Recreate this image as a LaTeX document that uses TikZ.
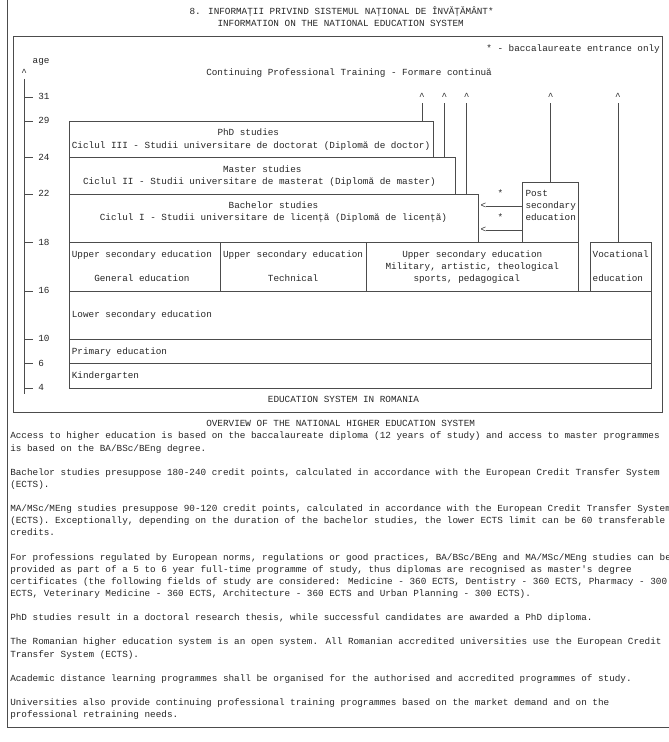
\documentclass[tikz,border=0pt]{standalone}
\usepackage{fontspec}
\newfontfamily\mono{Liberation Mono}
\begin{document}
\begin{tikzpicture}[x=5.6pt, y=-12.12pt,
  ln/.style={line width=0.55pt, draw=black!70},
  txt/.style={anchor=base west, inner sep=0pt, outer sep=0pt, yshift=-2.5pt,
              font=\mono\fontsize{9.33}{11}\selectfont, text=black!85}]
\useasboundingbox (-4.7pt,0.1pt) rectangle (664.3pt,-741.9pt);

% ---------- outer frame ----------
\draw[ln] (0.5,-1) -- (0.5,60) -- (125,60);
% ---------- inner frame ----------
\draw[ln] (1.5,3) rectangle (117.5,34);

% ---------- titles ----------
\node[txt] (title1) at (33,1) {8. INFORMAȚII PRIVIND SISTEMUL NAȚIONAL DE ÎNVĂȚĂMÂNT*};
\node[txt] (title2) at (38,2) {INFORMATION ON THE NATIONAL EDUCATION SYSTEM};
\node[txt] (note) at (86,4) {* - baccalaureate entrance only};
\node[txt] (age) at (5,5) {age};
\node[txt] (cpt) at (36,6) {Continuing Professional Training - Formare continuă};

% ---------- age axis ----------
\node[txt] (axup) at (3,6) {\textasciicircum};
\draw[ln] (3.5,6.5) -- (3.5,32.5);
\foreach \r/\a [count=\i] in {8/31,10/29,13/24,16/22,20/18,24/16,28/10,30/6,32/4} {
  \draw[ln] (3.5,\r) -- (5,\r);
  \node[txt] (age\i) at (6,\r) {\a};
}

% ---------- upward arrows (continuing training) ----------
\foreach \c/\e [count=\i] in {74/10,78/13,82/16,97/15,109/20} {
  \node[txt] (up\i) at (\c,8) {\textasciicircum};
  \draw[ln] (\c+0.5,8.5) -- (\c+0.5,\e);
}

% ---------- higher education boxes ----------
\draw[ln] (11.5,32) -- (11.5,10) -- (76.5,10) -- (76.5,13);
\draw[ln] (11.5,13) -- (80.5,13) -- (80.5,16);
\draw[ln] (11.5,16) -- (84.5,16) -- (84.5,20);
\draw[ln] (11.5,20) -- (102.5,20);
% post secondary
\draw[ln] (92.5,20) -- (92.5,15) -- (102.5,15) -- (102.5,24);
% vocational
\draw[ln] (104.5,24) -- (104.5,20) -- (115.5,20) -- (115.5,32);
% horizontal lines below
\draw[ln] (11.5,24) -- (115.5,24);
\draw[ln] (11.5,28) -- (115.5,28);
\draw[ln] (11.5,30) -- (115.5,30);
\draw[ln] (11.5,32) -- (115.5,32);
% dividers upper secondary
\draw[ln] (38.5,20) -- (38.5,24);
\draw[ln] (64.5,20) -- (64.5,24);

% arrows from post secondary to bachelor
\node[txt] (ar1) at (85,17) {<};
\node[txt] (ar2) at (85,19) {<};
\draw[ln] (85.9,17) -- (92.5,17);
\draw[ln] (85.9,19) -- (92.5,19);
\node[txt] (st1) at (88,16) {*};
\node[txt] (st2) at (88,18) {*};

% ---------- box texts ----------
\node[txt] (phd) at (38,11) {PhD studies};
\node[txt] (phd2) at (12,12) {Ciclul III - Studii universitare de doctorat (Diplomă de doctor)};
\node[txt] (mas) at (39,14) {Master studies};
\node[txt] (mas2) at (14,15) {Ciclul II - Studii universitare de masterat (Diplomă de master)};
\node[txt] (bac) at (40,17) {Bachelor studies};
\node[txt] (bac2) at (17,18) {Ciclul I - Studii universitare de licență (Diplomă de licență)};
\node[txt] (ps1) at (93,16) {Post};
\node[txt] (ps2) at (93,17) {secondary};
\node[txt] (ps3) at (93,18) {education};
\node[txt] (us1) at (12,21) {Upper secondary education};
\node[txt] (us2) at (39,21) {Upper secondary education};
\node[txt] (us3) at (71,21) {Upper secondary education};
\node[txt] (voc1) at (105,21) {Vocational};
\node[txt] (mil) at (68,22) {Military, artistic, theological};
\node[txt] (gen) at (16,23) {General education};
\node[txt] (tech) at (47,23) {Technical};
\node[txt] (spo) at (73,23) {sports, pedagogical};
\node[txt] (voc2) at (105,23) {education};
\node[txt] (low) at (12,26) {Lower secondary education};
\node[txt] (pri) at (12,29) {Primary education};
\node[txt] (kin) at (12,31) {Kindergarten};
\node[txt] (esr) at (47,33) {EDUCATION SYSTEM IN ROMANIA};

% ---------- overview ----------
\node[txt] (ov) at (36,35) {OVERVIEW OF THE NATIONAL HIGHER EDUCATION SYSTEM};
\node[txt] (p1) at (1,36) {Access to higher education is based on the baccalaureate diploma (12 years of study) and access to master programmes};
\node[txt] (p2) at (1,37) {is based on the BA/BSc/BEng degree.};
\node[txt] (p3) at (1,39) {Bachelor studies presuppose 180-240 credit points, calculated in accordance with the European Credit Transfer System};
\node[txt] (p4) at (1,40) {(ECTS).};
\node[txt] (p5) at (1,42) {MA/MSc/MEng studies presuppose 90-120 credit points, calculated in accordance with the European Credit Transfer System};
\node[txt] (p6) at (1,43) {(ECTS). Exceptionally, depending on the duration of the bachelor studies, the lower ECTS limit can be 60 transferable};
\node[txt] (p7) at (1,44) {credits.};
\node[txt] (p8) at (1,46) {For professions regulated by European norms, regulations or good practices, BA/BSc/BEng and MA/MSc/MEng studies can be};
\node[txt] (p9) at (1,47) {provided as part of a 5 to 6 year full-time programme of study, thus diplomas are recognised as master's degree};
\node[txt] (p10) at (1,48) {certificates (the following fields of study are considered: Medicine - 360 ECTS, Dentistry - 360 ECTS, Pharmacy - 300};
\node[txt] (p11) at (1,49) {ECTS, Veterinary Medicine - 360 ECTS, Architecture - 360 ECTS and Urban Planning - 300 ECTS).};
\node[txt] (p12) at (1,51) {PhD studies result in a doctoral research thesis, while successful candidates are awarded a PhD diploma.};
\node[txt] (p13) at (1,53) {The Romanian higher education system is an open system. All Romanian accredited universities use the European Credit};
\node[txt] (p14) at (1,54) {Transfer System (ECTS).};
\node[txt] (p15) at (1,56) {Academic distance learning programmes shall be organised for the authorised and accredited programmes of study.};
\node[txt] (p16) at (1,58) {Universities also provide continuing professional training programmes based on the market demand and on the};
\node[txt] (p17) at (1,59) {professional retraining needs.};
\end{tikzpicture}
\end{document}
